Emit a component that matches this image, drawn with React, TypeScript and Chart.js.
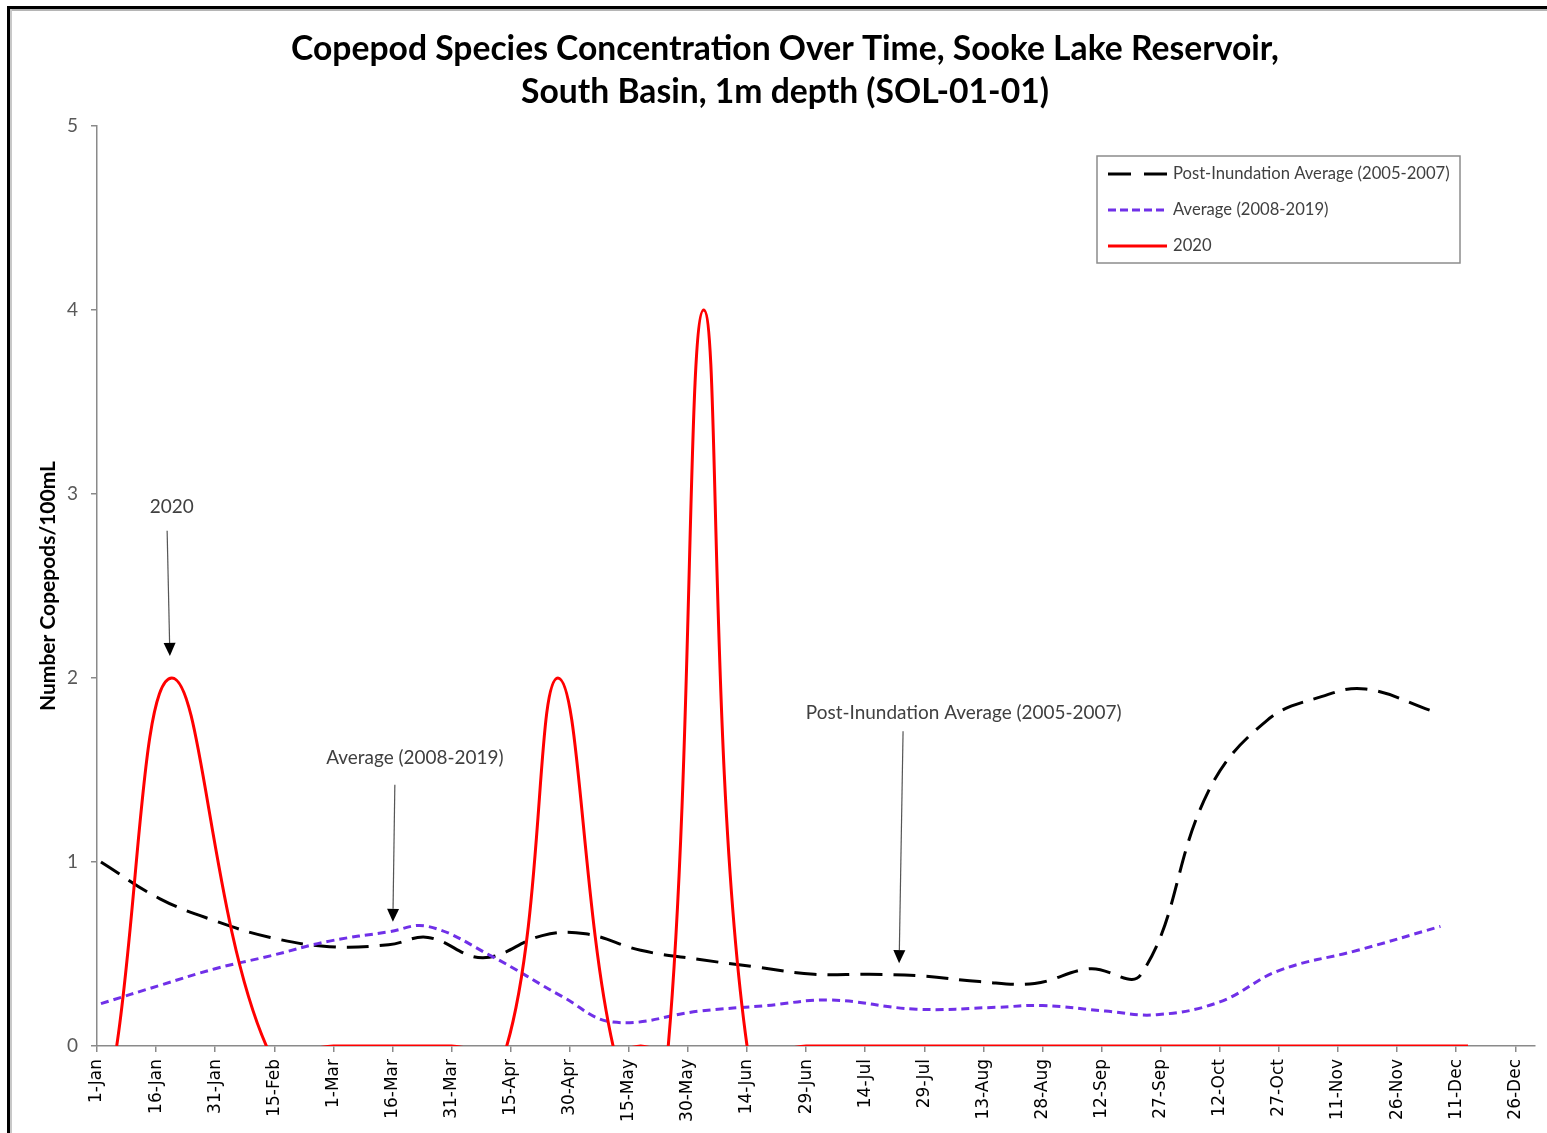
import React, { useEffect, useRef } from 'react';
import { Chart, registerables } from 'chart.js';

Chart.register(...registerables);

// ---- Axis ticks (day of year, 2020) ----
const tickDays = [0, 15, 30, 45, 60, 75, 90, 105, 120, 135, 150, 165, 180, 195, 210, 225, 240, 255, 270, 285, 300, 315, 330, 345, 360];
const tickLabels = ['1-Jan', '16-Jan', '31-Jan', '15-Feb', '1-Mar', '16-Mar', '31-Mar', '15-Apr', '30-Apr', '15-May', '30-May', '14-Jun', '29-Jun', '14-Jul', '29-Jul', '13-Aug', '28-Aug', '12-Sep', '27-Sep', '12-Oct', '27-Oct', '11-Nov', '26-Nov', '11-Dec', '26-Dec'];
const yTicks = [0, 1, 2, 3, 4, 5];

// ---- Series: Post-Inundation Average (2005-2007) ----
const postDays = [1, 16, 30, 44, 59, 74, 84, 98, 113, 124, 138, 153, 167, 182, 196, 210, 224, 238, 252, 265, 282, 297, 311, 322, 339];
const postValues = [1.0, 0.8, 0.68, 0.59, 0.54, 0.55, 0.59, 0.48, 0.6, 0.61, 0.52, 0.47, 0.43, 0.39, 0.39, 0.38, 0.35, 0.34, 0.42, 0.39, 1.38, 1.77, 1.9, 1.94, 1.82];

// ---- Series: Average (2008-2019) ----
const avgDays = [1, 16, 30, 44, 59, 74, 84, 100, 118, 131, 153, 170, 186, 208, 228, 240, 256, 269, 285, 300, 320, 341];
const avgValues = [0.23, 0.33, 0.42, 0.49, 0.57, 0.62, 0.65, 0.49, 0.27, 0.13, 0.19, 0.22, 0.25, 0.2, 0.21, 0.22, 0.19, 0.17, 0.24, 0.41, 0.52, 0.65];

// ---- Series: 2020 ----
const y2020Days = [5, 19, 43, 60, 75, 90, 104, 117, 131, 138, 145, 154, 165, 180, 194, 208, 222, 236, 250, 264, 278, 292, 306, 320, 334, 348];
const y2020Values = [0, 2, 0, 0, 0, 0, 0, 2, 0, 0, 0, 4, 0, 0, 0, 0, 0, 0, 0, 0, 0, 0, 0, 0, 0, 0];

// ---- Texts ----
const titleLines = ['Copepod Species Concentration Over Time, Sooke Lake Reservoir,', 'South Basin, 1m depth (SOL-01-01)'];
const yTitle = 'Number Copepods/100mL';
const seriesNames = ['Post-Inundation Average (2005-2007)', 'Average (2008-2019)', '2020'];

// annotation callouts in data coordinates: text centre, arrow start, arrow end
const calloutTexts = ['2020', 'Average (2008-2019)', 'Post-Inundation Average (2005-2007)'];
const calloutTextAt = [[19, 2.93], [80.7, 1.565], [220, 1.81]];
const calloutArrowFrom = [[17.8, 2.8], [75.6, 1.42], [204.6, 1.71]];
const calloutArrowTo = [[18.5, 2.12], [75.1, 0.675], [203.6, 0.45]];

const COLORS = { post: '#000000', avg: '#7030E8', y2020: '#FF0000', axis: '#8a8a8a' };
const LATO = 'Lato, "Open Sans", sans-serif';

function toXY(days: number[], vals: number[]) {
  return days.map((d, i) => ({ x: d, y: vals[i] }));
}

function fitFont(ctx: CanvasRenderingContext2D, text: string, target: number, weight: string, family: string) {
  ctx.font = `${weight} 20px ${family}`;
  const w = ctx.measureText(text).width;
  return (20 * target) / w;
}

const decorPlugin = {
  id: 'decor',
  afterDraw(chart: any) {
    const ctx: CanvasRenderingContext2D = chart.ctx;
    const xs = chart.scales.x;
    const ys = chart.scales.y;
    ctx.save();

    // Title
    const tSize = fitFont(ctx, titleLines[0], 988, 'bold', LATO);
    ctx.font = `bold ${tSize}px ${LATO}`;
    ctx.fillStyle = '#000';
    ctx.textAlign = 'center';
    ctx.textBaseline = 'alphabetic';
    ctx.fillText(titleLines[0], 785, 60);
    ctx.fillText(titleLines[1], 785, 103);

    // Y axis title
    const ySize = fitFont(ctx, yTitle, 250, 'bold', LATO);
    ctx.save();
    ctx.translate(48, (chart.chartArea.top + chart.chartArea.bottom) / 2);
    ctx.rotate(-Math.PI / 2);
    ctx.font = `bold ${ySize}px ${LATO}`;
    ctx.textBaseline = 'middle';
    ctx.textAlign = 'center';
    ctx.fillStyle = '#000';
    ctx.fillText(yTitle, 0, 0);
    ctx.restore();

    // Callouts
    const cSize = fitFont(ctx, calloutTexts[2], 316, 'normal', LATO);
    ctx.font = `${cSize}px ${LATO}`;
    ctx.fillStyle = '#404040';
    ctx.textAlign = 'center';
    ctx.textBaseline = 'middle';
    calloutTexts.forEach((t, i) => {
      const px = xs.getPixelForValue(calloutTextAt[i][0]);
      const py = ys.getPixelForValue(calloutTextAt[i][1]);
      ctx.fillText(t, px, py);
      const x0 = xs.getPixelForValue(calloutArrowFrom[i][0]);
      const y0 = ys.getPixelForValue(calloutArrowFrom[i][1]);
      const x1 = xs.getPixelForValue(calloutArrowTo[i][0]);
      const y1 = ys.getPixelForValue(calloutArrowTo[i][1]);
      const ang = Math.atan2(y1 - y0, x1 - x0);
      const headLen = 13;
      const headHalf = 6;
      const bx = x1 - headLen * Math.cos(ang);
      const by = y1 - headLen * Math.sin(ang);
      ctx.strokeStyle = '#555';
      ctx.lineWidth = 1.2;
      ctx.beginPath();
      ctx.moveTo(x0, y0);
      ctx.lineTo(bx, by);
      ctx.stroke();
      ctx.fillStyle = '#000';
      ctx.beginPath();
      ctx.moveTo(x1, y1);
      ctx.lineTo(bx + headHalf * Math.sin(ang), by - headHalf * Math.cos(ang));
      ctx.lineTo(bx - headHalf * Math.sin(ang), by + headHalf * Math.cos(ang));
      ctx.closePath();
      ctx.fill();
      ctx.fillStyle = '#404040';
    });

    // Legend
    const lx = 1097, ly = 156, lw = 363, lh = 107;
    ctx.fillStyle = '#fff';
    ctx.fillRect(lx, ly, lw, lh);
    ctx.strokeStyle = '#8c8c8c';
    ctx.lineWidth = 1.5;
    ctx.setLineDash([]);
    ctx.strokeRect(lx, ly, lw, lh);
    const lSize = fitFont(ctx, seriesNames[0], 277, 'normal', LATO);
    const styles = [
      { color: COLORS.post, dash: [23, 13] },
      { color: COLORS.avg, dash: [8, 4] },
      { color: COLORS.y2020, dash: [] as number[] },
    ];
    seriesNames.forEach((name, i) => {
      const yy = 174 + i * 36;
      ctx.strokeStyle = styles[i].color;
      ctx.lineWidth = 3;
      ctx.setLineDash(styles[i].dash);
      ctx.beginPath();
      ctx.moveTo(1108, yy);
      ctx.lineTo(1167, yy);
      ctx.stroke();
      ctx.setLineDash([]);
      ctx.font = `${lSize}px ${LATO}`;
      ctx.fillStyle = '#404040';
      ctx.textAlign = 'left';
      ctx.textBaseline = 'middle';
      ctx.fillText(name, 1173, yy);
    });

    ctx.restore();
  },
};

export default function App() {
  const ref = useRef<HTMLCanvasElement | null>(null);

  useEffect(() => {
    const canvas = ref.current;
    if (!canvas) return;
    const chart = new Chart(canvas, {
      type: 'line',
      data: {
        datasets: [
          {
            label: seriesNames[0],
            data: toXY(postDays, postValues),
            borderColor: COLORS.post,
            borderWidth: 3,
            borderDash: [22, 11],
            pointRadius: 0,
            tension: 0.4,
            fill: false,
            order: 3,
          },
          {
            label: seriesNames[1],
            data: toXY(avgDays, avgValues),
            borderColor: COLORS.avg,
            borderWidth: 3,
            borderDash: [8, 5],
            pointRadius: 0,
            tension: 0.4,
            fill: false,
            order: 2,
          },
          {
            label: seriesNames[2],
            data: toXY(y2020Days, y2020Values),
            borderColor: COLORS.y2020,
            borderWidth: 3,
            pointRadius: 0,
            tension: 0.4,
            fill: false,
            order: 1,
          },
        ],
      },
      options: {
        responsive: false,
        animation: false,
        events: [],
        layout: { padding: { top: 126, right: 12, left: 0, bottom: 0 } },
        elements: { line: { capBezierPoints: false } },
        plugins: {
          legend: { display: false },
          tooltip: { enabled: false },
          title: { display: false },
        },
        scales: {
          x: {
            type: 'linear',
            min: 0,
            max: 365,
            afterBuildTicks: (s: any) => {
              s.ticks = tickDays.map((v) => ({ value: v }));
            },
            afterFit: (s: any) => {
              s.height = 87;
            },
            ticks: {
              autoSkip: false,
              minRotation: 90,
              maxRotation: 90,
              padding: 7,
              color: '#000',
              font: { family: 'DejaVu Sans, sans-serif', size: 17 },
              callback: (v: any) => {
                const i = tickDays.indexOf(Number(v));
                return i >= 0 ? tickLabels[i] : '';
              },
            },
            grid: { drawOnChartArea: false, drawTicks: true, tickLength: 6, color: COLORS.axis, lineWidth: 1.5 },
            border: { display: true, color: COLORS.axis, width: 1.5 },
          },
          y: {
            type: 'linear',
            min: 0,
            max: 5,
            afterBuildTicks: (s: any) => {
              s.ticks = yTicks.map((v) => ({ value: v }));
            },
            afterFit: (s: any) => {
              s.width = 97;
            },
            ticks: {
              padding: 13,
              color: '#595959',
              font: { family: LATO, size: 19 },
            },
            grid: { drawOnChartArea: false, drawTicks: true, tickLength: 6, color: COLORS.axis, lineWidth: 1.5 },
            border: { display: true, color: COLORS.axis, width: 1.5 },
          },
        },
      },
      plugins: [decorPlugin],
    } as any);
    return () => chart.destroy();
  }, []);

  return (
    <div style={{ position: 'absolute', left: 0, top: 0, width: 1547, height: 1133, background: '#fff', overflow: 'hidden' }}>
      <canvas ref={ref} width={1547} height={1133} style={{ position: 'absolute', left: 0, top: 0, width: 1547, height: 1133 }} />
      <div style={{ position: 'absolute', left: 7, top: 6, width: 1540, height: 3, background: '#000' }} />
      <div style={{ position: 'absolute', left: 10, top: 9, width: 1537, height: 2, background: '#b5b5b5' }} />
      <div style={{ position: 'absolute', left: 7, top: 6, width: 3, height: 1127, background: '#000' }} />
      <div style={{ position: 'absolute', left: 10, top: 9, width: 2, height: 1124, background: '#c8c8c8' }} />
    </div>
  );
}
